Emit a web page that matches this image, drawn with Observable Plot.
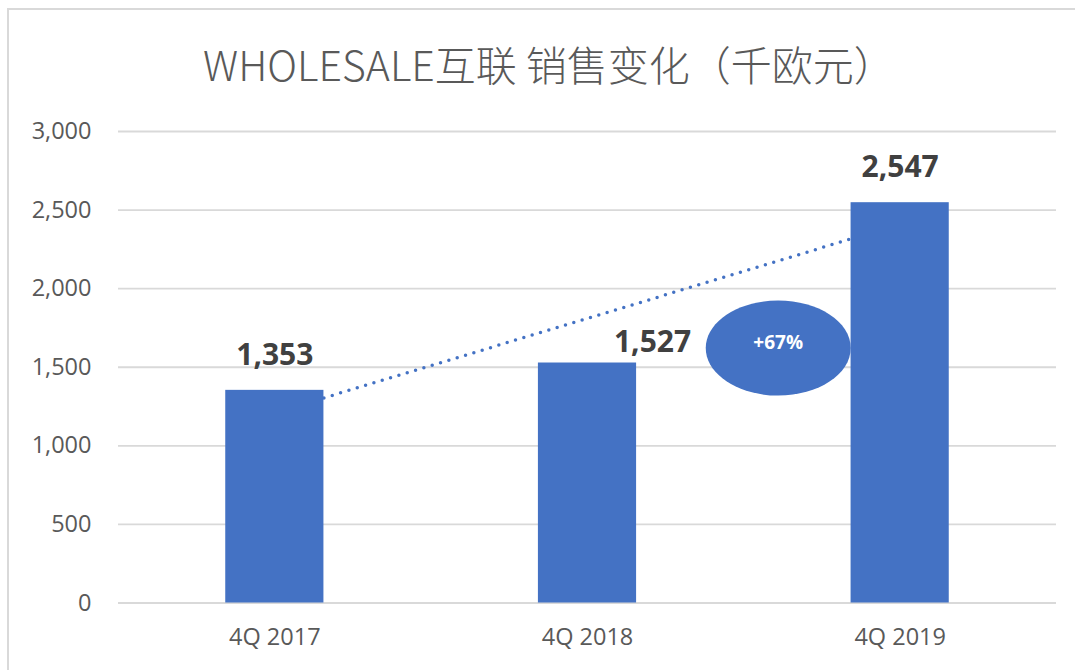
<!DOCTYPE html>
<html><head><meta charset="utf-8">
<script src="https://cdn.jsdelivr.net/npm/d3@7"></script>
<script src="https://cdn.jsdelivr.net/npm/@observablehq/plot@0.6"></script>
<style>
body{margin:0;background:#fff;}
#wrap{position:relative;width:1075px;height:670px;overflow:hidden;background:#fff;}
#frame{position:absolute;left:7px;top:8px;width:1100px;height:700px;border-top:2px solid #d9d9d9;border-left:2px solid #d9d9d9;}
#chart{position:absolute;left:0;top:0;}
#title{position:absolute;left:0;width:1098px;top:38px;text-align:center;font-family:"Noto Sans CJK SC",sans-serif;font-size:41px;font-weight:300;color:#595959;line-height:50px;white-space:nowrap;}
</style></head><body>
<div id="wrap"><div id="frame"></div><div id="chart"></div><div id="title">WHOLESALE互联 销售变化（千欧元）</div></div>
<script>
const categories = ["4Q 2017", "4Q 2018", "4Q 2019"];
const sales = [1353, 1527, 2547];
const yTicks = [0, 500, 1000, 1500, 2000, 2500, 3000];
const trendStart = 1305;   // dotted trend line value at the right edge of the first bar
const trendEnd = 2317;     // value at the left edge of the last bar
const bubbleX = 2.11;      // position (category units) of the growth bubble
const bubbleY = 1622;

const barHalf = 0.157;
const data = categories.map((c, i) => ({c, i, v: sales[i], x: i + 0.5, x1: i + 0.5 - barHalf, x2: i + 0.5 + barHalf}));
const growth = Math.round((sales[2] / sales[1] - 1) * 100);
const fmt = d3.format(",d");

const ellipse = {
  draw(ctx) {
    const rx = 72.5, ry = 47.5, k = 0.5523;
    ctx.moveTo(rx, 0);
    ctx.bezierCurveTo(rx, k * ry, k * rx, ry, 0, ry);
    ctx.bezierCurveTo(-k * rx, ry, -rx, k * ry, -rx, 0);
    ctx.bezierCurveTo(-rx, -k * ry, -k * rx, -ry, 0, -ry);
    ctx.bezierCurveTo(k * rx, -ry, rx, -k * ry, rx, 0);
    ctx.closePath();
  }
};

const chart = Plot.plot({
  width: 1075,
  height: 670,
  marginLeft: 118,
  marginRight: 19,
  marginTop: 131,
  marginBottom: 67.5,
  style: {fontFamily: "'Open Sans', sans-serif", fontSize: "23.5px", color: "#595959", background: "transparent", overflow: "visible"},
  x: {domain: [0, 3]},
  y: {domain: [0, 3000]},
  marks: [
    Plot.ruleY(yTicks, {stroke: "#d9d9d9", strokeWidth: 1.8}),
    Plot.rect(data, {x1: "x1", x2: "x2", y1: () => 0, y2: "v", fill: "#4472c4"}),
    Plot.link([{x1: 0.5 + barHalf, y1: trendStart, x2: 2.5 - barHalf, y2: trendEnd}],
      {x1: "x1", y1: "y1", x2: "x2", y2: "y2", stroke: "#4472c4", strokeWidth: 3.5, strokeDasharray: "0 8.7", strokeLinecap: "round"}),
    Plot.text(data.filter(d => d.i !== 1), {x: "x", y: "v", text: d => fmt(d.v), dy: -35, fontSize: 30, fontWeight: "bold", fill: "#404040"}),
    Plot.text(data.filter(d => d.i === 1), {x: "x", y: "v", text: d => fmt(d.v), dy: -21, dx: 65, fontSize: 30, fontWeight: "bold", fill: "#404040"}),
    Plot.dot([{x: bubbleX, y: bubbleY}], {x: "x", y: "y", symbol: ellipse, fill: "#4472c4", stroke: "none"}),
    Plot.text([{x: bubbleX, y: bubbleY}], {x: "x", y: "y", text: () => `+${growth}%`, dy: -5, fontSize: 19, fontWeight: "bold", fill: "white"}),
    Plot.axisY({ticks: yTicks, tickFormat: d => fmt(d), tickSize: 0, tickPadding: 27, label: null}),
    Plot.axisX({ticks: data.map(d => d.x), tickFormat: d => categories[Math.floor(d)], tickSize: 0, tickPadding: 25, label: null})
  ]
});
document.getElementById("chart").appendChild(chart);
</script>
</body></html>
